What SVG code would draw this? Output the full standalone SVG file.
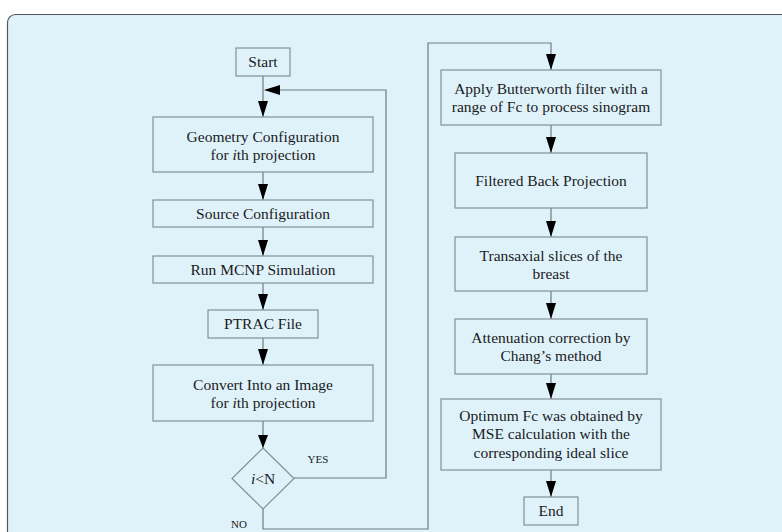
<svg xmlns="http://www.w3.org/2000/svg" width="782" height="532" viewBox="0 0 782 532">
<defs>
<style>
.box{fill:#dff2fa;stroke:#7f9297;stroke-width:1.2}
.t{font-family:'Liberation Serif',serif;font-size:15.5px;fill:#1a1a1a;text-anchor:middle}
.s{font-family:'Liberation Serif',serif;font-size:11px;fill:#1a1a1a;text-anchor:middle}
.c{fill:none;stroke:#6e7c80;stroke-width:1.2}
.ar{fill:#000}
</style>
</defs>
<rect width="782" height="532" fill="#ffffff"/>
<rect x="7.5" y="14.5" width="800" height="540" rx="8" fill="#dff2fa" stroke="#555" stroke-width="1.2"/>
<g id="connectors">
<path class="c" d="M263 76V117"/>
<path class="c" d="M263 172V200"/>
<path class="c" d="M263 227V256"/>
<path class="c" d="M263 283V310"/>
<path class="c" d="M263 338V365"/>
<path class="c" d="M263 421V448"/>
<path class="c" d="M294 478H386V90H266"/>
<path class="c" d="M263 509V529H428V43H551V70"/>
<path class="c" d="M551 125V153"/>
<path class="c" d="M551 208V237"/>
<path class="c" d="M551 291V319"/>
<path class="c" d="M551 374V399"/>
<path class="c" d="M551 470V497"/>
<polygon class="ar" points="258,101 268,101 263,117"/>
<polygon class="ar" points="258,184 268,184 263,200"/>
<polygon class="ar" points="258,240 268,240 263,256"/>
<polygon class="ar" points="258,294 268,294 263,310"/>
<polygon class="ar" points="258,349 268,349 263,365"/>
<polygon class="ar" points="258,435 268,435 263,448"/>
<polygon class="ar" points="280,85 280,95 264,90"/>
<polygon class="ar" points="546,54 556,54 551,70"/>
<polygon class="ar" points="546,137 556,137 551,153"/>
<polygon class="ar" points="546,221 556,221 551,237"/>
<polygon class="ar" points="546,303 556,303 551,319"/>
<polygon class="ar" points="546,383 556,383 551,399"/>
<polygon class="ar" points="546,481 556,481 551,497"/>
<text class="s" x="318" y="463">YES</text>
<text class="s" x="239" y="528">NO</text>
</g>

<g id="start"><rect class="box" x="236" y="48" width="54" height="28"/><text class="t" x="263" y="67">Start</text></g>
<g id="geometry"><rect class="box" x="153" y="117" width="220" height="55"/><text class="t" x="263" y="142">Geometry Configuration</text><text class="t" x="263" y="160">for <tspan font-style="italic">i</tspan>th projection</text></g>
<g id="source"><rect class="box" x="153" y="200" width="220" height="27"/><text class="t" x="263" y="219">Source Configuration</text></g>
<g id="mcnp"><rect class="box" x="153" y="256" width="220" height="27"/><text class="t" x="263" y="275">Run MCNP Simulation</text></g>
<g id="ptrac"><rect class="box" x="208" y="310" width="110" height="28"/><text class="t" x="263" y="329">PTRAC File</text></g>
<g id="convert"><rect class="box" x="153" y="365" width="220" height="56"/><text class="t" x="263" y="390">Convert Into an Image</text><text class="t" x="263" y="408">for <tspan font-style="italic">i</tspan>th projection</text></g>
<g id="decision"><polygon class="box" points="263,448 294,478.5 263,509 232,478.5"/><text class="t" x="263" y="484"><tspan font-style="italic">i</tspan>&lt;N</text></g>

<g id="butterworth"><rect class="box" x="441" y="70" width="220" height="55"/><text class="t" x="551" y="94">Apply Butterworth filter with a</text><text class="t" x="551" y="112">range of Fc to process sinogram</text></g>
<g id="fbp"><rect class="box" x="455" y="153" width="192" height="55"/><text class="t" x="551" y="186">Filtered Back Projection</text></g>
<g id="transaxial"><rect class="box" x="455" y="237" width="192" height="54"/><text class="t" x="551" y="261">Transaxial slices of the</text><text class="t" x="551" y="279">breast</text></g>
<g id="attenuation"><rect class="box" x="455" y="319" width="192" height="55"/><text class="t" x="551" y="343">Attenuation correction by</text><text class="t" x="551" y="361">Chang’s method</text></g>
<g id="optimum"><rect class="box" x="441" y="399" width="220" height="71"/><text class="t" x="551" y="421">Optimum Fc was obtained by</text><text class="t" x="551" y="439">MSE calculation with the</text><text class="t" x="551" y="458">corresponding ideal slice</text></g>
<g id="end"><rect class="box" x="524" y="497" width="54" height="28"/><text class="t" x="551" y="516">End</text></g>
</svg>
